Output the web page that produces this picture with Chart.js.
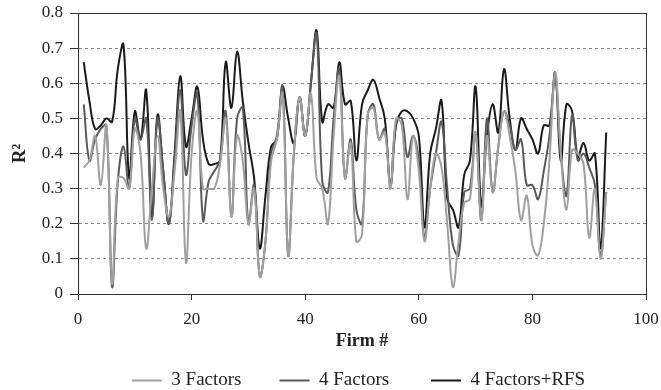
<!DOCTYPE html>
<html>
<head>
<meta charset="utf-8">
<script src="https://cdn.jsdelivr.net/npm/chart.js@4"></script>
<style>
  html, body { margin: 0; padding: 0; background: #fff; }
  #wrap { width: 661px; height: 390px; }
</style>
</head>
<body>
<div id="wrap"><canvas id="chart" width="661" height="390"></canvas></div>
<script>
// firm numbers 1..93
const firms = Array.from({ length: 93 }, (_, i) => i + 1);

const threeFactors = [
  0.36, 0.38, 0.45, 0.31, 0.48, 0.03, 0.33, 0.33, 0.30, 0.47,
  0.40, 0.13, 0.30, 0.45, 0.30, 0.22, 0.35, 0.52, 0.09, 0.40,
  0.52, 0.30, 0.30, 0.30, 0.37, 0.50, 0.22, 0.45, 0.38, 0.20,
  0.30, 0.05, 0.15, 0.38, 0.44, 0.57, 0.11, 0.40, 0.56, 0.45,
  0.57, 0.33, 0.30, 0.20, 0.45, 0.62, 0.33, 0.43, 0.15, 0.17,
  0.51, 0.53, 0.44, 0.46, 0.30, 0.50, 0.48, 0.27, 0.45, 0.35,
  0.15, 0.30, 0.40, 0.36, 0.20, 0.02, 0.15, 0.26, 0.27, 0.46,
  0.21, 0.45, 0.29, 0.42, 0.52, 0.45, 0.35, 0.21, 0.28, 0.14,
  0.11, 0.20, 0.38, 0.63, 0.40, 0.24, 0.41, 0.40, 0.37, 0.16,
  0.30, 0.10, 0.29
];

const fourFactors = [
  0.54, 0.38, 0.44, 0.47, 0.48, 0.02, 0.32, 0.42, 0.30, 0.50,
  0.44, 0.50, 0.21, 0.50, 0.35, 0.20, 0.38, 0.58, 0.34, 0.48,
  0.57, 0.21, 0.32, 0.35, 0.38, 0.52, 0.22, 0.50, 0.53, 0.20,
  0.31, 0.05, 0.15, 0.40, 0.45, 0.59, 0.11, 0.40, 0.56, 0.45,
  0.60, 0.74, 0.32, 0.29, 0.50, 0.64, 0.33, 0.44, 0.24, 0.20,
  0.51, 0.54, 0.44, 0.47, 0.31, 0.49, 0.50, 0.39, 0.45, 0.38,
  0.16, 0.30, 0.40, 0.49, 0.30, 0.14, 0.11, 0.29, 0.30, 0.46,
  0.21, 0.50, 0.29, 0.42, 0.52, 0.48, 0.41, 0.44, 0.31, 0.31,
  0.27, 0.35, 0.45, 0.62, 0.40, 0.28, 0.51, 0.38, 0.40, 0.36,
  0.31, 0.11, 0.29
];

const fourFactorsRfs = [
  0.66, 0.55, 0.47, 0.48, 0.50, 0.49, 0.64, 0.71, 0.33, 0.52,
  0.44, 0.58, 0.22, 0.51, 0.35, 0.20, 0.40, 0.62, 0.42, 0.50,
  0.59, 0.44, 0.37, 0.37, 0.38, 0.66, 0.53, 0.69, 0.55, 0.43,
  0.33, 0.13, 0.28, 0.42, 0.44, 0.59, 0.50, 0.43, 0.56, 0.45,
  0.60, 0.75, 0.49, 0.54, 0.53, 0.66, 0.54, 0.55, 0.38, 0.54,
  0.58, 0.61, 0.56, 0.50, 0.31, 0.48, 0.52, 0.52, 0.50, 0.45,
  0.19, 0.40, 0.47, 0.55, 0.27, 0.24, 0.19, 0.34, 0.38, 0.59,
  0.25, 0.45, 0.54, 0.46, 0.64, 0.50, 0.41, 0.50, 0.47, 0.44,
  0.40, 0.48, 0.48, 0.63, 0.38, 0.54, 0.52, 0.39, 0.43, 0.38,
  0.40, 0.13, 0.46
];

const seriesNames = ['3 Factors', '4 Factors', '4 Factors+RFS'];
const seriesColors = ['#a0a0a0', '#5a5a5a', '#1a1a1a'];
const yTicks = [0, 0.1, 0.2, 0.3, 0.4, 0.5, 0.6, 0.7, 0.8];
const xTicks = [0, 20, 40, 60, 80, 100];

const serif = '"Liberation Serif", "DejaVu Serif", serif';

function pts(values) {
  return values.map((v, i) => ({ x: firms[i], y: v }));
}

// frame around plot area, and nudge the legend under the plot
const frame = {
  id: 'frame',
  afterLayout(chart) {
    const lg = chart.legend;
    if (lg) {
      lg.left += 28; lg.right += 28;
      lg.top += 10; lg.bottom += 10;
    }
  },
  afterDraw(chart) {
    const { ctx, chartArea: a } = chart;
    ctx.save();
    ctx.strokeStyle = '#333';
    ctx.lineWidth = 1;
    ctx.strokeRect(a.left + 0.5, a.top + 0.5, a.right - a.left, a.bottom - a.top);
    ctx.restore();
  }
};

const gaps = ['\u2003\u2003', '\u2003\u2003\u2009', ''];

const data = {
  datasets: [threeFactors, fourFactors, fourFactorsRfs].map((vals, k) => ({
    label: seriesNames[k],
    data: pts(vals),
    borderColor: seriesColors[k],
    backgroundColor: seriesColors[k],
    borderWidth: 2,
    pointRadius: 0,
    tension: 0.4,
    fill: false
  }))
};

new Chart(document.getElementById('chart'), {
  type: 'line',
  data: data,
  options: {
    responsive: false,
    animation: false,
    layout: { padding: { top: 0, right: 0, left: 0, bottom: 0 } },
    plugins: {
      legend: {
        position: 'bottom',
        labels: {
          usePointStyle: true,
          pointStyle: 'line',
          pointStyleWidth: 30,
          boxHeight: 2,
          padding: 0,
          color: '#222',
          font: { family: serif, size: 19 },
          generateLabels(chart) {
            const items = Chart.defaults.plugins.legend.labels.generateLabels(chart);
            items.forEach((it, i) => {
              it.lineWidth = 2;
              it.text = it.text + gaps[i];
            });
            return items;
          }
        }
      },
      tooltip: { enabled: false }
    },
    scales: {
      x: {
        type: 'linear',
        min: 0,
        max: 100,
        afterBuildTicks: s => { s.ticks = xTicks.map(v => ({ value: v })); },
        afterFit: s => { s.paddingRight = 15; },
        grid: { drawOnChartArea: false, drawTicks: true, tickLength: 6, color: '#333' },
        border: { color: '#333' },
        ticks: { color: '#222', font: { family: serif, size: 17 }, padding: 9, maxRotation: 0 },
        title: { display: true, text: 'Firm #', color: '#222', font: { family: serif, size: 18, weight: 'bold' }, padding: { top: -8, bottom: 9 } }
      },
      y: {
        min: 0,
        max: 0.8,
        afterBuildTicks: s => { s.ticks = yTicks.map(v => ({ value: v })); },
        afterFit: s => { s.paddingTop = 13; },
        grid: { color: '#888', drawTicks: true, tickLength: 8, tickColor: '#333', tickBorderDash: [] },
        border: { color: '#333', dash: [3, 3] },
        ticks: { color: '#222', font: { family: serif, size: 17 }, padding: 7 },
        title: { display: true, text: 'R²', color: '#222', font: { family: serif, size: 19, weight: 'bold' }, padding: { top: 9, bottom: 3 } }
      }
    }
  },
  plugins: [frame]
});
</script>
</body>
</html>
